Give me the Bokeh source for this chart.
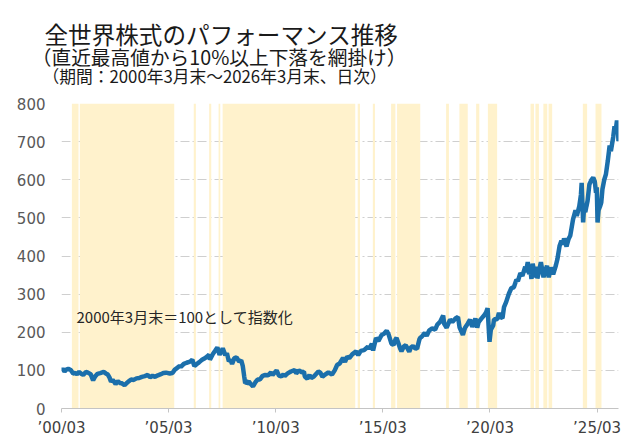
import pandas as pd
from bokeh.plotting import figure
from bokeh.models import Range1d, FixedTicker, DatetimeTickFormatter, Label, Title, ColumnDataSource
from bokeh.embed import file_html
from bokeh.resources import INLINE

# ---- data ----
dates = [
    "2000-03-31", "2000-04-20", "2000-05-22", "2000-06-20", "2000-07-25", "2000-09-05", "2000-10-15", "2000-11-20",
    "2000-12-20", "2001-01-25", "2001-03-15", "2001-04-05", "2001-05-20", "2001-06-25", "2001-08-10", "2001-09-21",
    "2001-10-25", "2001-12-05", "2002-01-20", "2002-03-20", "2002-04-25", "2002-05-30", "2002-06-28", "2002-07-24",
    "2002-08-20", "2002-09-15", "2002-10-09", "2002-11-15", "2002-12-20", "2003-01-25", "2003-03-11", "2003-04-20",
    "2003-05-25", "2003-07-01", "2003-08-15", "2003-09-30", "2003-11-15", "2003-12-31", "2004-02-20", "2004-04-10",
    "2004-05-18", "2004-06-30", "2004-08-12", "2004-09-30", "2004-11-20", "2004-12-31", "2005-02-15", "2005-04-20",
    "2005-06-05", "2005-07-15", "2005-08-31", "2005-10-05", "2005-10-25", "2005-12-15", "2006-02-01", "2006-03-31",
    "2006-05-09", "2006-06-13", "2006-07-20", "2006-08-31", "2006-10-15", "2006-11-30", "2007-01-15", "2007-02-20",
    "2007-03-05", "2007-04-25", "2007-06-05", "2007-07-10", "2007-08-17", "2007-09-20", "2007-10-10", "2007-11-22",
    "2007-12-20", "2008-01-22", "2008-02-20", "2008-03-17", "2008-04-25", "2008-06-02", "2008-07-15", "2008-08-20",
    "2008-09-15", "2008-10-10", "2008-10-27", "2008-11-10", "2008-11-21", "2008-12-25", "2009-01-25", "2009-03-09",
    "2009-04-20", "2009-05-25", "2009-07-05", "2009-08-15", "2009-09-25", "2009-11-25", "2010-01-10", "2010-02-05",
    "2010-04-15", "2010-05-25", "2010-07-05", "2010-08-10", "2010-08-31", "2010-10-20", "2010-12-15", "2011-02-18",
    "2011-03-15", "2011-04-29", "2011-06-20", "2011-07-25", "2011-08-09", "2011-09-22", "2011-10-28", "2011-11-25",
    "2012-01-10", "2012-03-27", "2012-05-01", "2012-06-04", "2012-07-20", "2012-09-14", "2012-11-15", "2012-12-31",
    "2013-02-10", "2013-03-25", "2013-05-22", "2013-06-24", "2013-08-01", "2013-09-05", "2013-10-25", "2013-12-31",
    "2014-02-04", "2014-03-20", "2014-05-15", "2014-07-20", "2014-08-08", "2014-09-25", "2014-10-16", "2014-12-05",
    "2015-01-15", "2015-03-10", "2015-04-20", "2015-06-05", "2015-07-09", "2015-08-25", "2015-09-29", "2015-11-05",
    "2015-11-20", "2015-12-20", "2016-01-21", "2016-02-12", "2016-03-25", "2016-04-25", "2016-06-24", "2016-07-20",
    "2016-08-25", "2016-09-30", "2016-11-04", "2016-12-15", "2016-12-30", "2017-01-20", "2017-03-15", "2017-04-17",
    "2017-06-01", "2017-07-20", "2017-09-08", "2017-10-15", "2017-12-01", "2018-01-23", "2018-02-09", "2018-03-23",
    "2018-05-21", "2018-06-28", "2018-08-20", "2018-10-03", "2018-10-29", "2018-12-25", "2019-01-31", "2019-03-20",
    "2019-04-26", "2019-06-03", "2019-07-26", "2019-08-26", "2019-09-20", "2019-11-12", "2019-12-31", "2020-01-24",
    "2020-02-19", "2020-03-23", "2020-04-15", "2020-05-25", "2020-06-08", "2020-07-31", "2020-08-31", "2020-09-24",
    "2020-10-30", "2020-11-25", "2020-12-31", "2021-02-16", "2021-03-31", "2021-05-12", "2021-06-25", "2021-07-20",
    "2021-08-31", "2021-10-05", "2021-11-22", "2021-12-03", "2022-01-04", "2022-01-27", "2022-02-15", "2022-03-08",
    "2022-03-29", "2022-05-12", "2022-06-08", "2022-06-17", "2022-08-16", "2022-09-30", "2022-10-20", "2022-11-28",
    "2022-12-28", "2023-01-31", "2023-03-13", "2023-04-28", "2023-05-25", "2023-06-30", "2023-08-01", "2023-08-25",
    "2023-09-15", "2023-10-27", "2023-12-01", "2023-12-29", "2024-02-15", "2024-03-28", "2024-04-19", "2024-05-31",
    "2024-06-28", "2024-07-11", "2024-08-05", "2024-08-20", "2024-09-11", "2024-09-30", "2024-10-20", "2024-11-20",
    "2024-12-27", "2025-01-24", "2025-02-20", "2025-03-13", "2025-03-26", "2025-04-08", "2025-04-25", "2025-05-20",
    "2025-06-10", "2025-06-30", "2025-07-31", "2025-08-29", "2025-09-30", "2025-10-31", "2025-11-21", "2025-12-31",
    "2026-01-22", "2026-02-10", "2026-03-05", "2026-03-18", "2026-03-31",
]
values = [
    100, 104, 97, 102, 104, 101, 92, 93,
    90, 96, 90, 88, 96, 94, 90, 74,
    84, 91, 93, 96, 92, 89, 81, 70,
    75, 70, 64, 72, 67, 66, 61, 67,
    72, 76, 75, 79, 80, 83, 85, 88,
    82, 86, 83, 87, 90, 93, 94, 92,
    93, 102, 107, 112, 109, 117, 120, 123,
    128, 111, 116, 121, 127, 131, 136, 141,
    128, 143, 152, 160, 141, 150, 158, 140,
    145, 124, 128, 117, 132, 134, 123, 126,
    112, 84, 66, 75, 64, 71, 65, 58,
    69, 76, 76, 85, 88, 87, 95, 88,
    100, 86, 84, 90, 85, 92, 97, 101,
    92, 100, 95, 97, 84, 78, 88, 80,
    84, 97, 94, 83, 89, 95, 89, 100,
    114, 118, 133, 122, 136, 132, 142, 150,
    140, 151, 153, 162, 156, 170, 152, 185,
    177, 193, 196, 204, 194, 170, 167, 182,
    185, 172, 157, 150, 163, 166, 149, 160,
    164, 158, 157, 182, 186, 188, 198, 191,
    205, 210, 207, 220, 227, 244, 222, 212,
    233, 227, 236, 240, 213, 193, 212, 223,
    233, 214, 236, 212, 227, 237, 246, 252,
    263, 175, 207, 218, 234, 234, 251, 240,
    237, 266, 279, 301, 316, 318, 338, 334,
    355, 348, 372, 357, 384, 352, 368, 340,
    380, 344, 372, 341, 384, 344, 358, 374,
    344, 370, 352, 375, 392, 426, 440, 430,
    446, 425, 445, 453, 496, 520, 505, 530,
    560, 592, 488, 525, 515, 530, 545, 588,
    600, 606, 595, 566, 580, 488, 520, 530,
    540, 575, 600, 615, 650, 690, 675, 712,
    740, 728, 755, 740, 701,
]

# periods with a drawdown of 10% or more from the previous high (shaded)
band_starts = [
    "2000-09-24", "2001-02-06", "2006-06-03", "2007-02-20", "2007-07-31", "2007-10-08", "2014-01-27",
    "2014-10-12", "2015-08-19", "2015-11-29", "2018-03-14", "2018-10-27", "2019-08-08", "2020-02-24",
    "2022-02-20", "2022-05-15", "2022-09-27", "2022-12-25", "2024-07-31", "2025-03-04",
]
band_ends = [
    "2001-01-15", "2005-07-05", "2006-07-09", "2007-03-28", "2007-08-29", "2013-12-16", "2014-03-07",
    "2014-11-17", "2015-10-31", "2016-12-28", "2018-05-01", "2019-03-18", "2019-10-01", "2020-07-31",
    "2022-04-20", "2022-07-13", "2022-12-02", "2023-02-24", "2024-10-12", "2025-06-14",
]

x_tick_dates = ["2000-03-31", "2005-03-31", "2010-03-31", "2015-03-31", "2020-03-31", "2025-03-31"]
y_ticks = [0, 100, 200, 300, 400, 500, 600, 700, 800]

title_main = "全世界株式のパフォーマンス推移"
title_sub = "（直近最高値から10%以上下落を網掛け）"
title_period = "（期間：2000年3月末～2026年3月末、日次）"
note_text = "2000年3月末＝100として指数化"

JP = "Noto Sans CJK JP"

def ms(d):
    return pd.Timestamp(d).value / 1e6

line_src = ColumnDataSource(dict(x=pd.to_datetime(dates), y=values))
band_src = ColumnDataSource(dict(left=pd.to_datetime(band_starts), right=pd.to_datetime(band_ends)))

p = figure(
    width=625, height=439,
    output_backend="svg", toolbar_location=None,
    x_axis_type="datetime",
    x_range=Range1d(ms(dates[0]), ms(dates[-1])),
    y_range=Range1d(0, 800),
    title=None,
    min_border_left=61, min_border_right=7, min_border_top=0, min_border_bottom=29,
)
p.outline_line_color = None
p.background_fill_color = "white"

# shaded drawdown bands
p.quad(left="left", right="right", bottom=0, top=800, source=band_src,
       fill_color="#fff2cc", line_color=None)

# index line
p.line("x", "y", source=line_src, line_color="#1b6fab", line_width=4.5)

# grid
p.xgrid.grid_line_color = None
p.ygrid.grid_line_color = "#cfcfcf"
p.ygrid.grid_line_dash = "9 3 2 3"
p.ygrid.grid_line_width = 1

# y axis
p.yaxis.ticker = FixedTicker(ticks=y_ticks)
p.yaxis.axis_line_color = None
p.yaxis.major_tick_line_color = None
p.yaxis.minor_tick_line_color = None
p.yaxis.major_label_text_font = "DejaVu Sans"
p.yaxis.major_label_text_font_size = "15px"
p.yaxis.major_label_text_color = "#595959"
p.yaxis.major_label_standoff = 10

# x axis
p.xaxis.ticker = FixedTicker(ticks=[ms(d) for d in x_tick_dates])
p.xaxis.formatter = DatetimeTickFormatter(years="’%y/%m", months="’%y/%m", days="’%y/%m")
p.xaxis.axis_line_color = "#c4c4c4"
p.xaxis.major_tick_line_color = "#c4c4c4"
p.xaxis.major_tick_in = 0
p.xaxis.major_tick_out = 4
p.xaxis.minor_tick_line_color = None
p.xaxis.major_label_text_font = "DejaVu Sans"
p.xaxis.major_label_text_font_size = "15px"
p.xaxis.major_label_text_color = "#404040"
p.xaxis.major_label_standoff = 6

# title block: panels stacked above the plot area (innermost first)
def title(text, size, offset, standoff):
    return Title(text=text, text_font=JP, text_font_size=size, text_font_style="normal",
                 text_color="#1a1a1a", align="left", offset=offset, standoff=standoff)

p.add_layout(title(" ", "1px", 0, 12.75), "above")                # gap above the plot area
p.add_layout(title(title_period, "16.75px", -19, 0), "above")
p.add_layout(title(title_sub, "19.7px", -29.7, -18.9), "above")
p.add_layout(title(title_main, "23.6px", -17, -3.0), "above")
p.add_layout(title(" ", "1px", 0, 12.15), "above")                # top margin

# note inside the chart
p.add_layout(Label(x=ms("2000-12-12"), y=242, text=note_text, text_font=JP, text_font_size="15px",
                   text_color="#262626", text_baseline="middle", text_align="left"))

open("out.html", "w").write(file_html(p, INLINE))
